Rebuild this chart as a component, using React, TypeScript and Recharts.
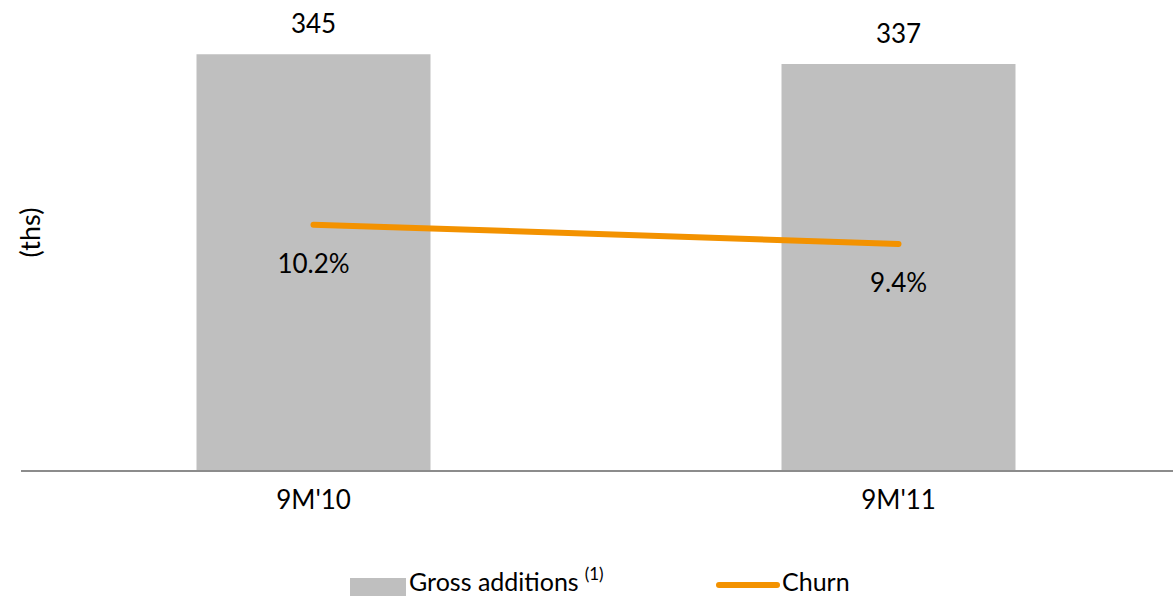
import React from 'react';
import {
  ComposedChart,
  Bar,
  Line,
  XAxis,
  YAxis,
  Legend,
  LabelList,
} from 'recharts';

const periods = ["9M'10", "9M'11"];
const grossAdditions = [345, 337];
const churnRate = [10.2, 9.4];

const FONT = 'Lato, "Open Sans", sans-serif';
const GREY = '#bfbfbf';
const ORANGE = '#f39200';

const data = periods.map((period, i) => ({
  period,
  gross: grossAdditions[i],
  churn: churnRate[i],
}));

function PeriodTick({ x, y, payload }: any) {
  return (
    <text x={x} y={y + 38} textAnchor="middle" fontFamily={FONT} fontSize={26} fill="#000">
      {payload.value}
    </text>
  );
}

function ChurnLabel({ x, y, value }: any) {
  return (
    <text x={x} y={y + 48} textAnchor="middle" fontFamily={FONT} fontSize={26} fill="#000">
      {Number(value).toFixed(1)}%
    </text>
  );
}

function UnitLabel({ viewBox }: any) {
  const cx = viewBox.x + 29;
  const cy = viewBox.y + viewBox.height / 2 - 3;
  return (
    <text
      x={cx}
      y={cy}
      transform={`rotate(-90 ${cx} ${cy})`}
      textAnchor="middle"
      dominantBaseline="central"
      fontFamily={FONT}
      fontSize={27}
      fill="#000"
    >
      (ths)
    </text>
  );
}

function ChartLegend({ payload }: any) {
  const items = payload ?? [];
  return (
    <svg width={1173} height={40} style={{ display: 'block' }}>
      {items.map((entry: any) => {
        if (entry.dataKey === 'gross') {
          return (
            <g key="gross">
              <rect x={350} y={18} width={56} height={18} fill={GREY} />
              <text x={409} y={31} fontFamily={FONT} fontSize={25} fill="#000">
                {entry.value}
                <tspan fontSize={17} dx={6} dy={-11}>(1)</tspan>
              </text>
            </g>
          );
        }
        return (
          <g key="churn">
            <line x1={719} y1={25} x2={777} y2={25} stroke={ORANGE} strokeWidth={6} strokeLinecap="round" />
            <text x={782} y={31} fontFamily={FONT} fontSize={25} fill="#000">
              {entry.value}
            </text>
          </g>
        );
      })}
    </svg>
  );
}

export default function App() {
  return (
    <div style={{ position: 'absolute', left: 0, top: 0, width: 1173, height: 596, overflow: 'hidden', background: '#fff' }}>
      <ComposedChart
        width={1200}
        height={596}
        data={data}
        margin={{ top: 0, right: 9, bottom: 0, left: 0 }}
        barCategoryGap="30%"
      >
        <XAxis
          dataKey="period"
          height={125}
          tickLine={false}
          tickSize={0}
          tickMargin={0}
          axisLine={{ stroke: '#8c8c8c', strokeWidth: 2 }}
          tick={<PeriodTick />}
        />
        <YAxis
          yAxisId="left"
          domain={[0, 390]}
          width={21}
          tick={false}
          tickLine={false}
          axisLine={false}
          label={<UnitLabel />}
        />
        <YAxis yAxisId="right" orientation="right" domain={[0, 19.5]} hide />
        <Legend
          layout="horizontal"
          verticalAlign="middle"
          align="center"
          wrapperStyle={{ left: 0, top: 560, width: 1173, height: 40 }}
          content={<ChartLegend />}
        />
        <Bar yAxisId="left" dataKey="gross" name="Gross additions" fill={GREY} isAnimationActive={false}>
          <LabelList
            dataKey="gross"
            position="top"
            offset={21}
            fontFamily={FONT}
            fontSize={26}
            fill="#000"
          />
        </Bar>
        <Line
          yAxisId="right"
          dataKey="churn"
          name="Churn"
          stroke={ORANGE}
          strokeWidth={6}
          strokeLinecap="round"
          dot={false}
          activeDot={false}
          isAnimationActive={false}
        >
          <LabelList dataKey="churn" content={<ChurnLabel />} />
        </Line>
      </ComposedChart>
    </div>
  );
}
